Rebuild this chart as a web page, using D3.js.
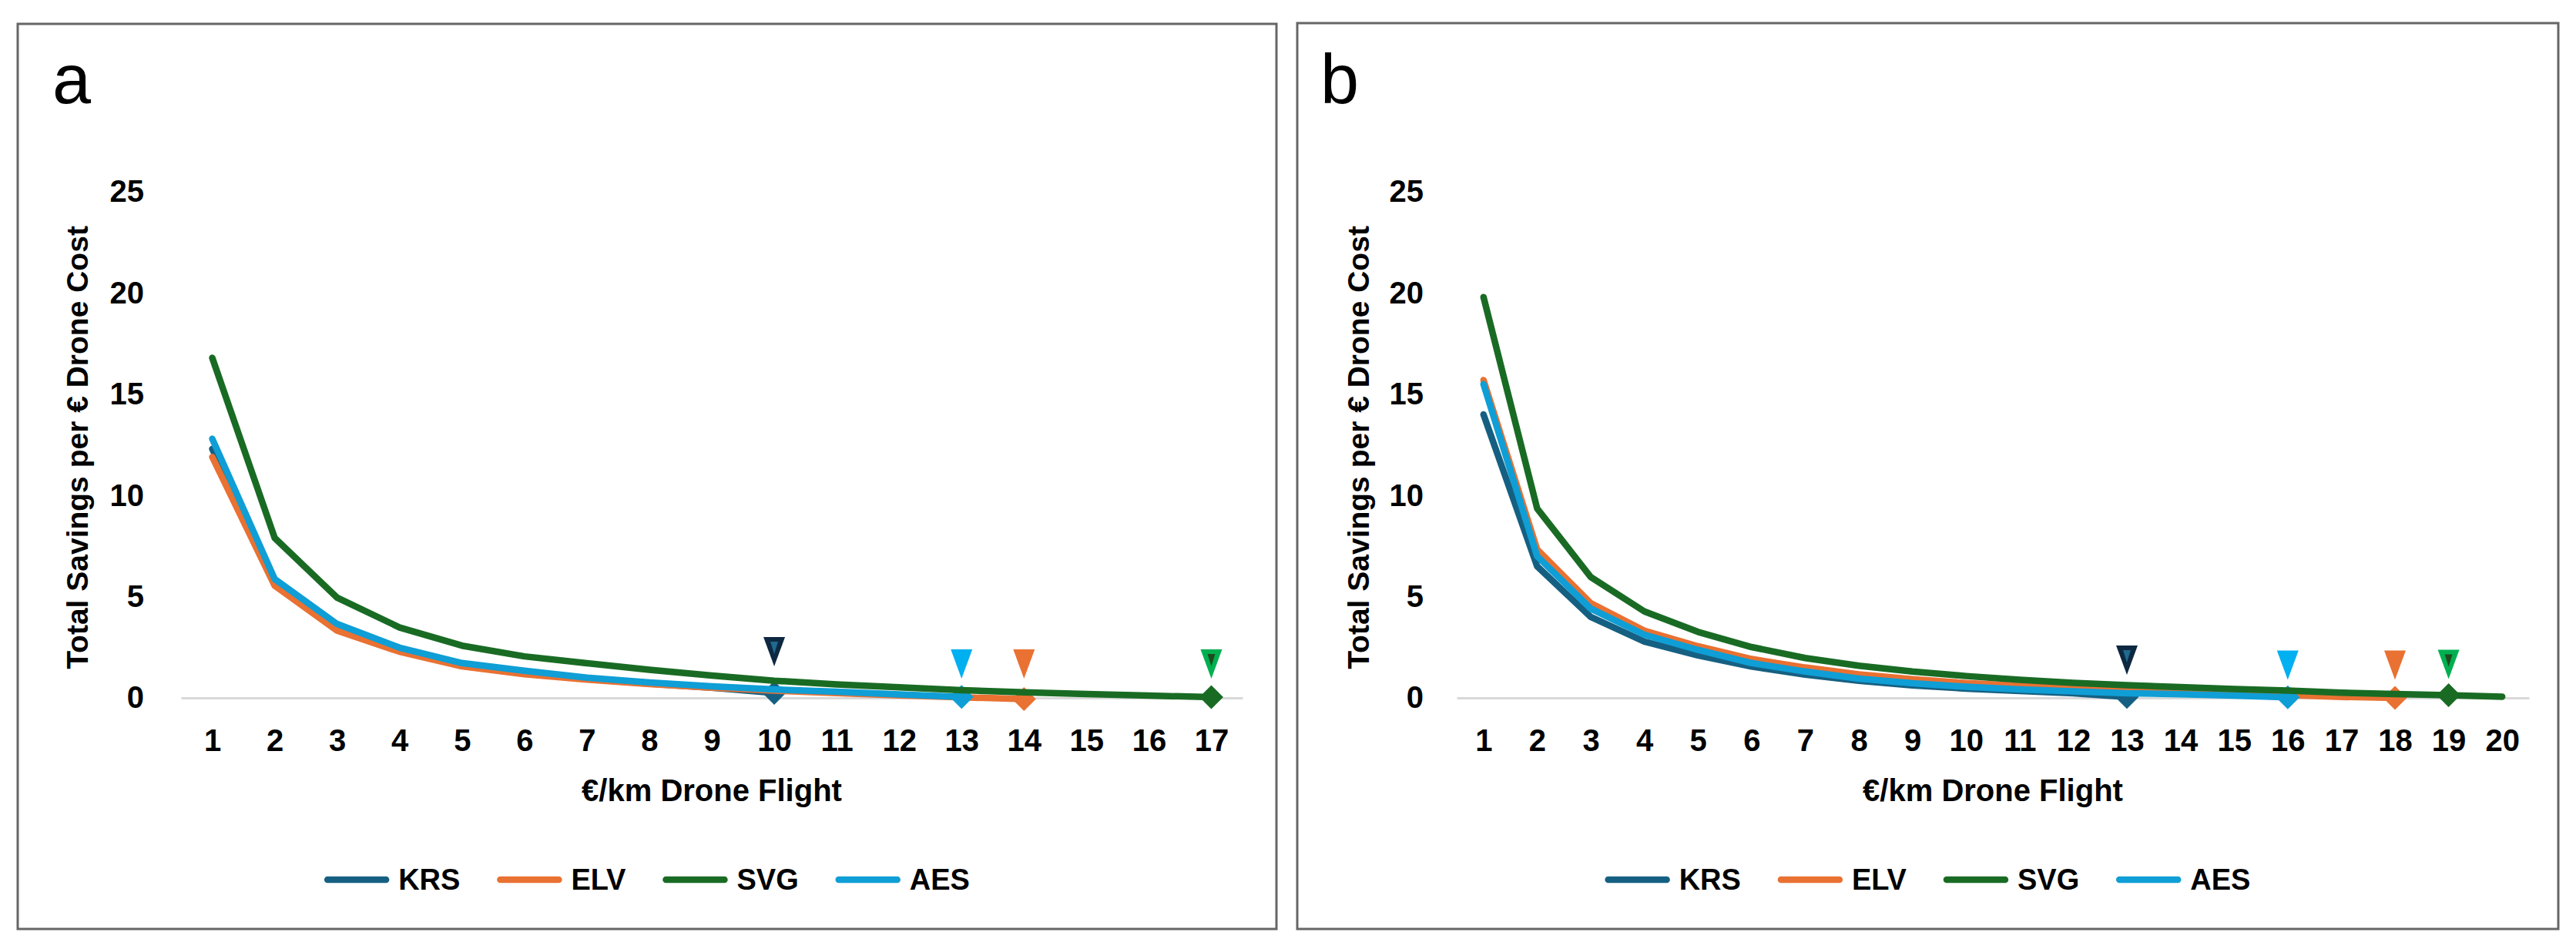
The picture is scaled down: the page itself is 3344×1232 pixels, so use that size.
<!DOCTYPE html>
<html>
<head>
<meta charset="utf-8">
<script src="https://cdn.jsdelivr.net/npm/d3@7"></script>
<style>
  body { margin: 0; background: #fff; }
</style>
</head>
<body>
<svg id="chart"></svg>
<script>
const FONT = "'Liberation Sans', Arial, sans-serif";

// series order as in the legend
const seriesNames = ["KRS", "ELV", "SVG", "AES"];
const lineColors = ["#156082", "#E97132", "#196B24", "#0F9ED5"];
const triColors = ["#0E2841", "#E97132", "#00B050", "#00B0F0"];
const triInner = ["#1F6A8F", null, "#1E4B1E", null];
const yTicks = [0, 5, 10, 15, 20, 25];

// panel a
const catsA = [1, 2, 3, 4, 5, 6, 7, 8, 9, 10, 11, 12, 13, 14, 15, 16, 17];
const krsA = [12.3, 5.7, 3.45, 2.35, 1.62, 1.22, 0.93, 0.7, 0.5, 0.25];
const elvA = [11.9, 5.54, 3.32, 2.28, 1.56, 1.17, 0.9, 0.68, 0.5, 0.36, 0.24, 0.12, 0.03, -0.06];
const svgA = [16.8, 7.9, 4.95, 3.48, 2.58, 2.05, 1.71, 1.39, 1.1, 0.85, 0.67, 0.52, 0.38, 0.28, 0.19, 0.11, 0.04];
const aesA = [12.8, 5.87, 3.65, 2.48, 1.72, 1.34, 1.0, 0.76, 0.57, 0.42, 0.3, 0.17, 0.05];
const endA = [10, 14, 17, 13];          // diamond / arrow category per series
const triA = [2.28, 1.67, 1.67, 1.67];  // arrow height per series

// panel b
const catsB = [1, 2, 3, 4, 5, 6, 7, 8, 9, 10, 11, 12, 13, 14, 15, 16, 17, 18, 19, 20];
const krsB = [14.0, 6.5, 4.0, 2.78, 2.1, 1.55, 1.15, 0.85, 0.62, 0.46, 0.34, 0.23, 0.05];
const elvB = [15.7, 7.33, 4.68, 3.32, 2.55, 1.92, 1.5, 1.16, 0.92, 0.73, 0.6, 0.5, 0.42, 0.33, 0.24, 0.14, 0.05, 0.0];
const svgB = [19.8, 9.36, 5.97, 4.27, 3.26, 2.51, 1.97, 1.59, 1.3, 1.08, 0.89, 0.74, 0.63, 0.53, 0.44, 0.36, 0.26, 0.19, 0.13, 0.06];
const aesB = [15.5, 7.0, 4.41, 3.12, 2.37, 1.72, 1.3, 0.95, 0.72, 0.55, 0.42, 0.32, 0.23, 0.18, 0.11, 0.03];
const endB = [13, 18, 19, 16];
const triB = [1.86, 1.62, 1.66, 1.62];

const width = 3344, height = 1232;
const svg = d3.select("#chart").attr("width", width).attr("height", height);

const panels = [
  { letter: "a", box: [23, 31, 1657, 1206], xRange: [235, 1613], letterX: 68, yTitleX: 100, yPad: 48,
    cats: catsA, values: [krsA, elvA, svgA, aesA], ends: endA, tri: triA },
  { letter: "b", box: [1684, 30, 3321, 1206], xRange: [1891, 3283], letterX: 1714, yTitleX: 1763, yPad: 43,
    cats: catsB, values: [krsB, elvB, svgB, aesB], ends: endB, tri: triB },
];

// drawing order: KRS, ELV, AES, SVG (green sits on top)
const drawOrder = [0, 1, 3, 2];

function drawPanel(p) {
  const g = svg.append("g");

  g.append("rect")
    .attr("x", p.box[0]).attr("y", p.box[1])
    .attr("width", p.box[2] - p.box[0]).attr("height", p.box[3] - p.box[1])
    .attr("fill", "#fff").attr("stroke", "#666").attr("stroke-width", 3);

  const x = d3.scalePoint().domain(p.cats).range(p.xRange).padding(0.5);
  const y = d3.scaleLinear().domain([0, 25]).range([906, 249]);

  g.append("g")
    .attr("transform", `translate(0, ${y(0)})`)
    .call(d3.axisBottom(x).tickSize(0).tickSizeOuter(0).tickPadding(41))
    .attr("font-family", FONT).attr("font-size", 40).attr("font-weight", "bold")
    .call((a) => a.select(".domain").attr("stroke", "#d9d9d9").attr("stroke-width", 3))
    .call((a) => a.selectAll("text").attr("fill", "#000"));

  g.append("g")
    .attr("transform", `translate(${p.xRange[0]}, 0)`)
    .call(d3.axisLeft(y).tickValues(yTicks).tickSize(0).tickPadding(p.yPad))
    .attr("font-family", FONT).attr("font-size", 40).attr("font-weight", "bold")
    .call((a) => a.select(".domain").remove())
    .call((a) => a.selectAll("text").attr("fill", "#000"));

  const line = d3.line().x((d) => x(d[0])).y((d) => y(d[1]));

  drawOrder.forEach((i) => {
    const pts = p.values[i].map((v, k) => [p.cats[k], v]);
    g.append("path")
      .datum(pts)
      .attr("d", line)
      .attr("fill", "none")
      .attr("stroke", lineColors[i])
      .attr("stroke-width", 8.5)
      .attr("stroke-linejoin", "round")
      .attr("stroke-linecap", "round");

    const c = p.ends[i];
    g.append("path")
      .attr("d", d3.symbol(d3.symbolSquare, 480)())
      .attr("transform", `translate(${x(c)}, ${y(p.values[i][c - 1])}) rotate(45)`)
      .attr("fill", lineColors[i]);
  });

  // arrows above the break-even points
  seriesNames.forEach((s, i) => {
    const cx = x(p.ends[i]), cy = y(p.tri[i]);
    g.append("path")
      .attr("d", `M${cx - 14},${cy - 19}L${cx + 14},${cy - 19}L${cx},${cy + 19}Z`)
      .attr("fill", triColors[i]);
    if (triInner[i]) {
      g.append("path")
        .attr("d", `M${cx - 5},${cy - 13}L${cx + 5},${cy - 13}L${cx},${cy + 3}Z`)
        .attr("fill", triInner[i]);
    }
  });

  // panel letter
  g.append("text")
    .attr("x", p.letterX).attr("y", 134)
    .attr("font-family", FONT).attr("font-size", 90)
    .text(p.letter);

  // axis titles
  g.append("text")
    .attr("transform", `translate(${p.yTitleX}, 581) rotate(-90)`)
    .attr("text-anchor", "middle").attr("dominant-baseline", "central")
    .attr("font-family", FONT).attr("font-size", 39).attr("font-weight", "bold")
    .text("Total Savings per € Drone Cost");

  g.append("text")
    .attr("x", (p.xRange[0] + p.xRange[1]) / 2).attr("y", 1040)
    .attr("text-anchor", "middle")
    .attr("font-family", FONT).attr("font-size", 40).attr("font-weight", "bold")
    .text("€/km Drone Flight");

  // legend, centred on the panel
  const legend = g.append("g").attr("transform", "translate(0, 1142)");
  let cursor = 0;
  const items = seriesNames.map((s, i) => {
    const it = legend.append("g");
    it.append("line")
      .attr("x1", 4).attr("x2", 80).attr("y1", 0).attr("y2", 0)
      .attr("stroke", lineColors[i]).attr("stroke-width", 8.5).attr("stroke-linecap", "round");
    const t = it.append("text")
      .attr("x", 96).attr("y", 13)
      .attr("font-family", FONT).attr("font-size", 38).attr("font-weight", "bold")
      .text(s);
    const w = 96 + t.node().getComputedTextLength();
    it.attr("transform", `translate(${cursor}, 0)`);
    cursor += w + 48;
    return it;
  });
  const total = cursor - 48;
  const cx = (p.box[0] + p.box[2]) / 2;
  legend.attr("transform", `translate(${cx - total / 2}, 1142)`);
}

panels.forEach(drawPanel);
</script>
</body>
</html>
